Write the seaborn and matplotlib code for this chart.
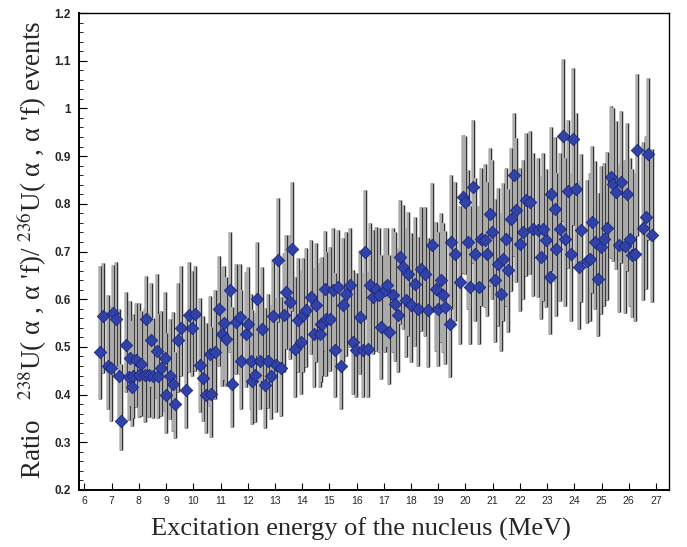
import numpy as np
import seaborn as sns
import matplotlib.pyplot as plt
from matplotlib.ticker import MultipleLocator, FixedLocator, FixedFormatter

# -----------------------------
# Data
# -----------------------------
energy = [
    6.58, 6.70, 6.88, 6.99, 7.06, 7.17, 7.28, 7.36, 7.51, 7.62,
    7.69, 7.76, 7.80, 7.91, 8.02, 8.09, 8.24, 8.28, 8.39, 8.46,
    8.53, 8.68, 8.72, 8.83, 8.97, 9.01, 9.16, 9.27, 9.34, 9.45,
    9.56, 9.74, 9.85, 9.96, 10.07,
    10.26, 10.37, 10.48, 10.63, 10.66, 10.81, 10.96, 11.07, 11.14, 11.21,
    11.36, 11.43, 11.58, 11.73, 11.75, 11.95, 12.02, 12.13, 12.15, 12.28,
    12.35, 12.46, 12.53, 12.64, 12.75, 12.86, 12.94, 13.05, 13.12, 13.23,
    13.34, 13.42, 13.56, 13.64, 13.75, 13.86, 13.97, 14.04, 14.15, 14.33,
    14.44, 14.52, 14.66, 14.70,
    14.74, 14.85, 14.88, 15.03, 15.14, 15.21, 15.32, 15.43, 15.51, 15.62,
    15.77, 15.88, 15.99, 16.13, 16.24, 16.32, 16.43, 16.50, 16.61, 16.72,
    16.83, 16.90, 17.05, 17.12, 17.20, 17.34, 17.42, 17.53, 17.60, 17.71,
    17.82, 17.89, 18.00, 18.15, 18.26, 18.37, 18.52, 18.63, 18.78, 18.92,
    19.00, 19.11,
    19.18, 19.25, 19.44, 19.47, 19.62, 19.80, 19.91, 19.99, 20.10, 20.17,
    20.28, 20.35, 20.50, 20.57, 20.72, 20.79, 20.90, 20.98, 21.09, 21.20,
    21.31, 21.38, 21.49, 21.57, 21.68, 21.79, 21.86, 22.01, 22.12, 22.23,
    22.37, 22.48, 22.67, 22.78, 22.85, 22.96, 23.11, 23.14, 23.29, 23.32,
    23.47, 23.58,
    23.66, 23.77, 23.88, 23.95, 24.06, 24.17, 24.25, 24.47, 24.58, 24.65,
    24.76, 24.87, 24.98, 25.09, 25.20, 25.35, 25.42, 25.53, 25.64, 25.71,
    25.86, 25.93, 26.04, 26.12, 26.23, 26.30, 26.52, 26.63, 26.70, 26.85,
]

ratio = [
    0.490, 0.565, 0.459, 0.455, 0.572, 0.559, 0.440, 0.344, 0.505, 0.436,
    0.476, 0.415, 0.440, 0.473, 0.442, 0.465, 0.442, 0.559, 0.442, 0.515,
    0.440, 0.492, 0.440, 0.455, 0.476, 0.400, 0.438, 0.423, 0.380, 0.515,
    0.540, 0.410, 0.567, 0.540, 0.570,
    0.463, 0.434, 0.400, 0.486, 0.402, 0.490, 0.580, 0.528, 0.550, 0.517,
    0.620, 0.423, 0.553, 0.563, 0.470, 0.526, 0.547, 0.470, 0.428, 0.442,
    0.600, 0.470, 0.538, 0.421, 0.471, 0.438, 0.565, 0.463, 0.682, 0.455,
    0.567, 0.615, 0.595, 0.705, 0.496, 0.557, 0.511, 0.567, 0.578, 0.605,
    0.526, 0.588, 0.526, 0.547,
    0.549, 0.622, 0.559, 0.559, 0.620, 0.494, 0.626, 0.459, 0.588, 0.611,
    0.630, 0.511, 0.494, 0.563, 0.494, 0.699, 0.496, 0.630, 0.605, 0.622,
    0.609, 0.542, 0.620, 0.630, 0.532, 0.609, 0.590, 0.567, 0.689, 0.668,
    0.599, 0.653, 0.588, 0.632, 0.580, 0.663, 0.653, 0.578, 0.714, 0.622,
    0.580, 0.641,
    0.609, 0.584, 0.547, 0.720, 0.695, 0.636, 0.814, 0.803, 0.720, 0.626,
    0.835, 0.695, 0.626, 0.726, 0.724, 0.695, 0.778, 0.741, 0.641, 0.674,
    0.611, 0.684, 0.726, 0.661, 0.768, 0.860, 0.787, 0.716, 0.741, 0.808,
    0.803, 0.747, 0.745, 0.689, 0.747, 0.724, 0.647, 0.820, 0.789, 0.705,
    0.747, 0.943,
    0.726, 0.826, 0.695, 0.935, 0.830, 0.668, 0.745, 0.680, 0.684, 0.762,
    0.720, 0.643, 0.709, 0.726, 0.749, 0.856, 0.841, 0.824, 0.713, 0.845,
    0.711, 0.820, 0.726, 0.693, 0.695, 0.912, 0.749, 0.772, 0.904, 0.734,
]

err_high = [
    0.18, 0.11, 0.15, 0.13, 0.10, 0.12, 0.14, 0.12, 0.11, 0.13,
    0.12, 0.14, 0.13, 0.12, 0.15, 0.11, 0.14, 0.09, 0.13, 0.12,
    0.12, 0.16, 0.13, 0.12, 0.14, 0.13, 0.12, 0.15, 0.11, 0.12,
    0.13, 0.15, 0.11, 0.12, 0.10,
    0.14, 0.13, 0.15, 0.12, 0.14, 0.13, 0.11, 0.14, 0.12, 0.13,
    0.12, 0.16, 0.12, 0.11, 0.15, 0.13, 0.12, 0.14, 0.15, 0.13,
    0.12, 0.14, 0.13, 0.16, 0.14, 0.15, 0.12, 0.14, 0.13, 0.15,
    0.13, 0.12, 0.14, 0.14, 0.15, 0.13, 0.15, 0.12, 0.13, 0.12,
    0.14, 0.13, 0.15, 0.14,
    0.14, 0.12, 0.14, 0.15, 0.13, 0.16, 0.12, 0.17, 0.14, 0.13,
    0.12, 0.15, 0.16, 0.14, 0.16, 0.13, 0.16, 0.13, 0.14, 0.13,
    0.14, 0.15, 0.13, 0.12, 0.16, 0.14, 0.15, 0.14, 0.12, 0.13,
    0.15, 0.13, 0.15, 0.14, 0.15, 0.13, 0.14, 0.15, 0.13, 0.14,
    0.16, 0.14,
    0.15, 0.16, 0.17, 0.14, 0.15, 0.16, 0.13, 0.14, 0.15, 0.17,
    0.14, 0.16, 0.17, 0.15, 0.16, 0.15, 0.14, 0.15, 0.17, 0.16,
    0.17, 0.16, 0.15, 0.17, 0.15, 0.13, 0.15, 0.16, 0.15, 0.14,
    0.15, 0.16, 0.15, 0.17, 0.16, 0.15, 0.17, 0.14, 0.15, 0.16,
    0.16, 0.16,
    0.17, 0.15, 0.17, 0.15, 0.16, 0.18, 0.16, 0.17, 0.18, 0.16,
    0.17, 0.18, 0.17, 0.16, 0.16, 0.15, 0.16, 0.15, 0.17, 0.15,
    0.18, 0.15, 0.17, 0.18, 0.17, 0.16, 0.18, 0.17, 0.16, 0.18,
]

err_low = [
    0.10, 0.12, 0.09, 0.11, 0.13, 0.10, 0.09, 0.06, 0.10, 0.09,
    0.10, 0.08, 0.09, 0.10, 0.09, 0.11, 0.10, 0.12, 0.09, 0.10,
    0.09, 0.10, 0.09, 0.10, 0.11, 0.08, 0.09, 0.10, 0.07, 0.11,
    0.10, 0.08, 0.12, 0.10, 0.12,
    0.10, 0.09, 0.08, 0.11, 0.09, 0.10, 0.12, 0.11, 0.12, 0.10,
    0.13, 0.09, 0.11, 0.12, 0.10, 0.11, 0.12, 0.10, 0.09, 0.10,
    0.12, 0.10, 0.11, 0.09, 0.10, 0.09, 0.12, 0.10, 0.13, 0.10,
    0.12, 0.12, 0.12, 0.13, 0.10, 0.11, 0.11, 0.12, 0.12, 0.12,
    0.11, 0.12, 0.11, 0.12,
    0.11, 0.13, 0.12, 0.11, 0.13, 0.10, 0.13, 0.09, 0.12, 0.13,
    0.13, 0.11, 0.10, 0.12, 0.10, 0.14, 0.10, 0.13, 0.12, 0.13,
    0.12, 0.11, 0.13, 0.13, 0.11, 0.12, 0.12, 0.12, 0.14, 0.13,
    0.12, 0.13, 0.12, 0.13, 0.12, 0.13, 0.13, 0.12, 0.14, 0.13,
    0.12, 0.13,
    0.12, 0.12, 0.11, 0.14, 0.14, 0.13, 0.16, 0.15, 0.14, 0.12,
    0.16, 0.14, 0.12, 0.14, 0.14, 0.13, 0.15, 0.14, 0.13, 0.13,
    0.12, 0.13, 0.14, 0.13, 0.15, 0.17, 0.15, 0.14, 0.14, 0.16,
    0.15, 0.14, 0.14, 0.13, 0.15, 0.14, 0.12, 0.16, 0.15, 0.14,
    0.15, 0.18,
    0.14, 0.16, 0.14, 0.18, 0.16, 0.13, 0.15, 0.13, 0.13, 0.15,
    0.14, 0.12, 0.14, 0.14, 0.15, 0.17, 0.16, 0.16, 0.14, 0.17,
    0.14, 0.16, 0.14, 0.13, 0.14, 0.18, 0.15, 0.15, 0.18, 0.14,
]

x_ticks = list(range(6, 28))
y_ticks = [0.2, 0.3, 0.4, 0.5, 0.6, 0.7, 0.8, 0.9, 1.0, 1.1, 1.2]
y_tick_labels = ["0.2", "0.3", "0.4", "0.5", "0.6", "0.7", "0.8", "0.9", "1", "1.1", "1.2"]

X_LABEL = "Excitation energy of the nucleus (MeV)"
Y_LABEL = r"Ratio   $^{238}$U( α , α 'f)/ $^{236}$U( α , α 'f) events"

# -----------------------------
# Plot
# -----------------------------
sns.set_style("ticks")
plt.rcParams["mathtext.fontset"] = "stix"

fig = plt.figure(figsize=(6.87, 5.47), dpi=100)
ax = fig.add_axes([79 / 687, 57 / 547, 590 / 687, 477 / 547])

yerr = np.array([err_low, err_high])

# error bars: thin dark outline with grey core
ax.errorbar(energy, ratio, yerr=yerr, fmt="none", ecolor="#222222",
            elinewidth=2.5, capsize=0, zorder=2)
ax.errorbar(energy, ratio, yerr=yerr, fmt="none", ecolor="#ababab",
            elinewidth=1.6, capsize=0, zorder=3)
ax.errorbar(energy, ratio, xerr=0.12, fmt="none", ecolor="black",
            elinewidth=1.0, capsize=0, zorder=4)

sns.scatterplot(x=energy, y=ratio, ax=ax, marker="D", s=40,
                color="#3142a6", edgecolor="#1b2680", linewidth=0.6,
                zorder=5, legend=False)

ax.set_xlim(5.8, 27.48)
ax.set_ylim(0.2, 1.2)

ax.xaxis.set_major_locator(FixedLocator(x_ticks))
ax.set_xticklabels([str(t) for t in x_ticks], fontsize=7.5, family="Liberation Sans")
ax.yaxis.set_major_locator(FixedLocator(y_ticks))
ax.yaxis.set_major_formatter(FixedFormatter(y_tick_labels))
ax.yaxis.set_minor_locator(MultipleLocator(0.02))
for lab in ax.get_yticklabels():
    lab.set_fontsize(8.5)
    lab.set_fontweight("bold")
    lab.set_family("Liberation Sans")

ax.tick_params(axis="both", which="both", direction="in", top=False, right=False,
               color="black")
ax.tick_params(axis="x", which="major", length=5, width=0.8, pad=4)
ax.tick_params(axis="y", which="major", length=6, width=0.8, pad=6)
ax.tick_params(axis="y", which="minor", length=3, width=0.6)

for side in ["left", "bottom", "top", "right"]:
    ax.spines[side].set_color("black")
    ax.spines[side].set_linewidth(1.0)
ax.spines["left"].set_linewidth(1.4)
ax.spines["bottom"].set_linewidth(1.4)

ax.set_xlabel(X_LABEL, fontsize=19, family="Liberation Serif")
ax.set_ylabel(Y_LABEL, fontsize=19.5, family="Liberation Serif")
ax.xaxis.set_label_coords(0.478, -0.058)
ax.yaxis.set_label_coords(-0.05, 0.503)

plt.savefig("out.png", dpi=100)
